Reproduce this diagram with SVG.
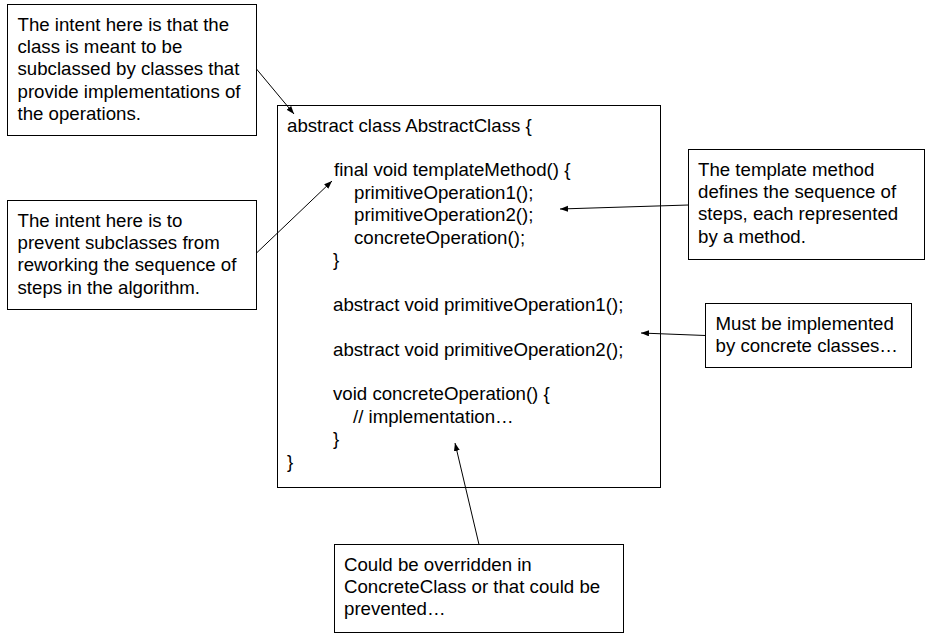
<svg xmlns="http://www.w3.org/2000/svg" width="933" height="640" viewBox="0 0 933 640">
<style>
  .box { fill: #ffffff; stroke: #000000; stroke-width: 1; }
  .t { font-family: "Liberation Sans", Arial, sans-serif; font-size: 18.67px; fill: #000000; }
  .conn { stroke: #000000; stroke-width: 1; fill: none; marker-end: url(#arr); }
</style>
<defs>
  <marker id="arr" markerUnits="userSpaceOnUse" markerWidth="10" markerHeight="8" refX="8" refY="3" orient="auto">
    <path d="M0,0 L8,3 L0,6 z" fill="#000000"/>
  </marker>
</defs>
<rect x="0" y="0" width="933" height="640" fill="#ffffff"/>

<g id="abstract-class">
  <rect class="box" x="277.5" y="105.5" width="383" height="382"/>
  <text class="t" x="287" y="131.5">abstract class AbstractClass {</text>
  <text class="t" x="334" y="176.3">final void templateMethod() {</text>
  <text class="t" x="354" y="198.7">primitiveOperation1();</text>
  <text class="t" x="354" y="221.1">primitiveOperation2();</text>
  <text class="t" x="354" y="243.5">concreteOperation();</text>
  <text class="t" x="333" y="265.9">}</text>
  <text class="t" x="333" y="310.7">abstract void primitiveOperation1();</text>
  <text class="t" x="333" y="355.5">abstract void primitiveOperation2();</text>
  <text class="t" x="333" y="400.3">void concreteOperation() {</text>
  <text class="t" x="353" y="422.7">// implementation…</text>
  <text class="t" x="333" y="445.1">}</text>
  <text class="t" x="287" y="467.5">}</text>
</g>

<g id="note-subclassed">
  <rect class="box" x="7.5" y="4.5" width="249" height="131"/>
  <text class="t" x="17.5" y="30.5">The intent here is that the</text>
  <text class="t" x="17.5" y="52.9">class is meant to be</text>
  <text class="t" x="17.5" y="75.3">subclassed by classes that</text>
  <text class="t" x="17.5" y="97.7">provide implementations of</text>
  <text class="t" x="17.5" y="120.1">the operations.</text>
</g>

<g id="note-prevent">
  <rect class="box" x="7.5" y="200.5" width="249" height="109"/>
  <text class="t" x="17.5" y="226.5">The intent here is to</text>
  <text class="t" x="17.5" y="248.9">prevent subclasses from</text>
  <text class="t" x="17.5" y="271.3">reworking the sequence of</text>
  <text class="t" x="17.5" y="293.7">steps in the algorithm.</text>
</g>

<g id="note-template">
  <rect class="box" x="688.5" y="149.5" width="236" height="110"/>
  <text class="t" x="698" y="175.5">The template method</text>
  <text class="t" x="698" y="197.9">defines the sequence of</text>
  <text class="t" x="698" y="220.3">steps, each represented</text>
  <text class="t" x="698" y="242.7">by a method.</text>
</g>

<g id="note-implemented">
  <rect class="box" x="705.5" y="303.5" width="206" height="64"/>
  <text class="t" x="715.5" y="329.5">Must be implemented</text>
  <text class="t" x="715.5" y="351.9">by concrete classes…</text>
</g>

<g id="note-overridden">
  <rect class="box" x="334.5" y="544.5" width="289" height="88"/>
  <text class="t" x="344" y="570.5">Could be overridden in</text>
  <text class="t" x="344" y="592.9">ConcreteClass or that could be</text>
  <text class="t" x="344" y="615.3">prevented…</text>
</g>

<g id="connectors">
  <line class="conn" x1="256.5" y1="69" x2="294" y2="114"/>
  <line class="conn" x1="256.5" y1="253" x2="332" y2="181"/>
  <line class="conn" x1="688.5" y1="205" x2="560" y2="209"/>
  <line class="conn" x1="705.5" y1="335.5" x2="641" y2="333"/>
  <line class="conn" x1="479" y1="544.5" x2="455" y2="443"/>
</g>
</svg>
